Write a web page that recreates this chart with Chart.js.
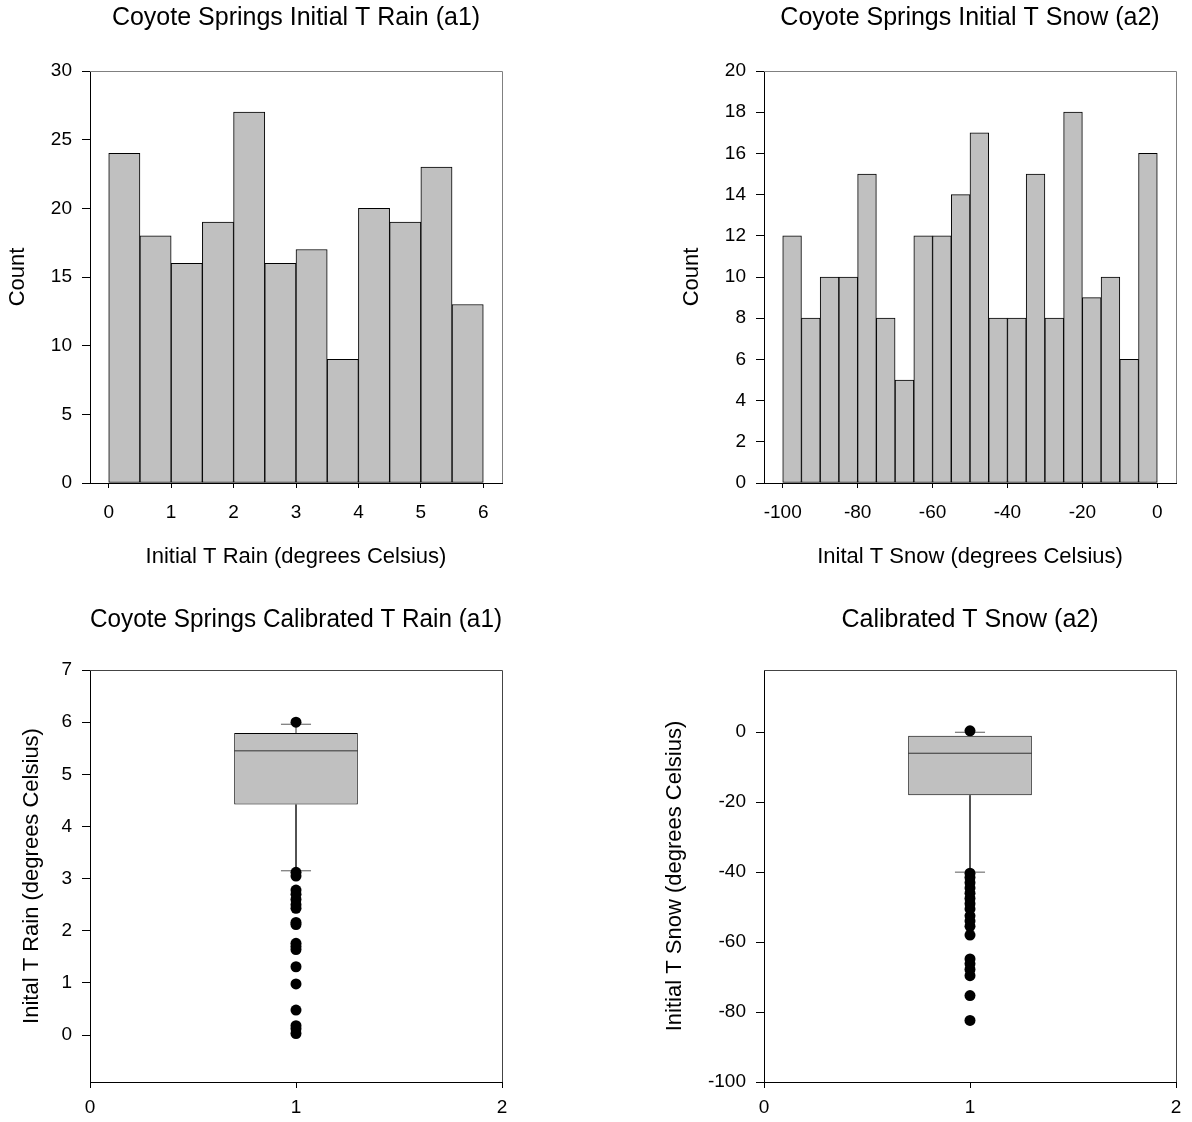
<!DOCTYPE html>
<html><head><meta charset="utf-8">
<script src="https://cdn.jsdelivr.net/npm/chart.js@4/dist/chart.umd.min.js"></script>
<style>
html,body{margin:0;padding:0;background:#fff;}
#wrap{position:relative;width:1192px;height:1122px;overflow:hidden;}
canvas{position:absolute;}
</style></head><body>
<div id="wrap">
<canvas id="tl" width="596" height="580" style="left:0;top:0"></canvas>
<canvas id="tr" width="596" height="580" style="left:596px;top:0"></canvas>
<canvas id="bl" width="596" height="542" style="left:0;top:580px"></canvas>
<canvas id="br" width="596" height="542" style="left:596px;top:580px"></canvas>
</div>
<script>
// ---- data ----
const rainBinCenters = [0.25,0.75,1.25,1.75,2.25,2.75,3.25,3.75,4.25,4.75,5.25,5.75];
const rainCounts     = [24,18,16,19,27,16,17,9,20,19,23,13];
const rainXTicks     = [0,1,2,3,4,5,6];
const rainYTicks     = [0,5,10,15,20,25,30];

const snowBinCenters = [-97.5,-92.5,-87.5,-82.5,-77.5,-72.5,-67.5,-62.5,-57.5,-52.5,-47.5,-42.5,-37.5,-32.5,-27.5,-22.5,-17.5,-12.5,-7.5,-2.5];
const snowCounts     = [12,8,10,10,15,8,5,12,12,14,17,8,8,15,8,18,9,10,6,16];
const snowXTicks     = [-100,-80,-60,-40,-20,0];
const snowYTicks     = [0,2,4,6,8,10,12,14,16,18,20];

// box stats: [lower whisker, q1, median, q3, upper whisker]
const rainBoxStats   = [3.15, 4.42, 5.45, 5.79, 5.96];
const rainOutliers   = [6.0, 3.12, 3.05, 2.78, 2.7, 2.6, 2.5, 2.43, 2.16, 2.12, 1.76, 1.7, 1.64, 1.31, 0.98, 0.48, 0.18, 0.12, 0.03];
const rainBoxYTicks  = [0,1,2,3,4,5,6,7];

const snowBoxStats   = [-40, -18, -6, -1, 0];
const snowOutliers   = [0.4, -40.3, -41.5, -43, -44.5, -46, -47.5, -49, -50.5, -52.5, -54, -55.5, -58, -64.8, -66.2, -67.8, -69.6, -75.3, -82.4];
const snowBoxYTicks  = [-100,-80,-60,-40,-20,0];

const boxXTicks      = [0,1,2];
const boxPosition    = 1;

// ---- style ----
Chart.defaults.font.family = "'Liberation Sans', Arial, sans-serif";
Chart.defaults.color = '#000';
const FILL = '#c0c0c0';
const BOX_HALF = 0.3;
const CAP_HALF = 0.073;

const frame = {
  id: 'frame',
  afterDraw(chart, args, opts) {
    const {ctx, chartArea: {left, right, top, bottom}} = chart;
    ctx.save();
    ctx.strokeStyle = opts.color || '#808080';
    ctx.lineWidth = 1;
    ctx.beginPath();
    ctx.moveTo(Math.round(left), Math.round(top) + 0.5);
    ctx.lineTo(Math.round(right) + 0.5, Math.round(top) + 0.5);
    ctx.lineTo(Math.round(right) + 0.5, Math.round(bottom));
    ctx.stroke();
    ctx.restore();
  }
};

function axis(tickVals, tickLen, pad, extra) {
  return Object.assign({
    type: 'linear',
    offset: false,
    grid: {display: true, drawOnChartArea: false, drawTicks: true, tickLength: tickLen, color: '#000', lineWidth: 1, offset: false},
    border: {display: true, color: '#000', width: 1},
    ticks: {padding: pad, font: {size: 19}, color: '#000', autoSkip: false, maxRotation: 0},
    afterBuildTicks: s => { s.ticks = tickVals.map(v => ({value: v})); }
  }, extra);
}

function baseOptions(titleText, titlePad, padRight, frameColor) {
  return {
    responsive: false, animation: false, events: [],
    layout: {padding: {left: 0, right: padRight, top: 0, bottom: 0}},
    plugins: {
      legend: {display: false}, tooltip: {enabled: false},
      title: {display: true, text: titleText, fullSize: false, color: '#000',
              font: {size: 25, weight: 'normal'}, padding: titlePad},
      frame: {color: frameColor}
    }
  };
}

function histogram(id, centers, counts, o) {
  const opts = baseOptions(o.title, {top: 3, bottom: 38}, o.padRight, '#808080');
  opts.scales = {
    x: axis(o.xTicks, 5, 13, {min: o.xMin, max: o.xMax,
      title: {display: true, text: o.xTitle, font: {size: 22}, color: '#000', padding: {top: 0, bottom: 9.8}},
      afterFit: s => { s.height = 97; }}),
    y: axis(o.yTicks, 8, 10, {min: o.yMin, max: o.yMax,
      title: {display: true, text: 'Count', font: {size: 22}, color: '#000', padding: {top: o.yTitlePad, bottom: 0}},
      afterFit: s => { s.width = o.yWidth; }})
  };
  new Chart(document.getElementById(id), {
    type: 'bar',
    data: {datasets: [{
      data: centers.map((x, i) => ({x: x, y: counts[i]})),
      backgroundColor: FILL, borderColor: '#000', borderWidth: 1, borderSkipped: false,
      barPercentage: 1, categoryPercentage: 1
    }]},
    options: opts,
    plugins: [frame]
  });
}

function boxplot(id, stats, outliers, o) {
  const [wLo, q1, med, q3, wHi] = stats;
  const p = boxPosition;
  const seg = (a, b, color, ord) => ({type: 'line', data: [a, b], borderColor: color, borderWidth: 1,
    pointRadius: 0, fill: false, order: ord});
  const opts = baseOptions(o.title, {top: 25, bottom: 35}, o.padRight, '#444');
  opts.scales = {
    x: axis(boxXTicks, 6, 8.5, {min: 0, max: 2, afterFit: s => { s.height = 40; }}),
    y: axis(o.yTicks, 8, 10, {min: o.yMin, max: o.yMax,
      title: {display: true, text: o.yTitle, font: {size: 22}, color: '#000', padding: {top: o.yTitlePad, bottom: 0}},
      afterFit: s => { s.width = o.yWidth; }})
  };
  new Chart(document.getElementById(id), {
    type: 'bar',
    data: {datasets: [
      {type: 'line', data: outliers.map(v => ({x: p, y: v})), showLine: false,
       pointRadius: 5.5, pointBackgroundColor: '#000', pointBorderWidth: 0, order: 0},
      seg({x: p - BOX_HALF, y: med}, {x: p + BOX_HALF, y: med}, '#333', 1),
      seg({x: p - CAP_HALF, y: wHi}, {x: p + CAP_HALF, y: wHi}, '#5a5a5a', 2),
      seg({x: p - CAP_HALF, y: wLo}, {x: p + CAP_HALF, y: wLo}, '#5a5a5a', 2),
      seg({x: p, y: q3}, {x: p, y: wHi}, '#3a3a3a', 2),
      seg({x: p, y: q1}, {x: p, y: wLo}, '#3a3a3a', 2),
      {type: 'bar', data: [{x: p, y: [q1, q3]}], backgroundColor: FILL, borderColor: '#000',
       borderWidth: 1, borderSkipped: false, barPercentage: 0.6, categoryPercentage: 1, order: 3}
    ]},
    options: opts,
    plugins: [frame]
  });
}

histogram('tl', rainBinCenters, rainCounts, {
  title: 'Coyote Springs Initial T Rain (a1)', padRight: 94,
  xMin: -0.3, xMax: 6.3, xTicks: rainXTicks, xTitle: 'Initial T Rain (degrees Celsius)',
  yMin: 0, yMax: 30, yTicks: rainYTicks, yWidth: 90, yTitlePad: 4.8
});
histogram('tr', snowBinCenters, snowCounts, {
  title: 'Coyote Springs Initial T Snow (a2)', padRight: 16,
  xMin: -105, xMax: 5, xTicks: snowXTicks, xTitle: 'Inital T Snow (degrees Celsius)',
  yMin: 0, yMax: 20, yTicks: snowYTicks, yWidth: 168, yTitlePad: 82.8
});
boxplot('bl', rainBoxStats, rainOutliers, {
  title: 'Coyote Springs Calibrated T Rain (a1)', padRight: 94,
  yMin: -0.9, yMax: 7, yTicks: rainBoxYTicks, yWidth: 90, yTitlePad: 18.8,
  yTitle: 'Inital T Rain (degrees Celsius)'
});
boxplot('br', snowBoxStats, snowOutliers, {
  title: 'Calibrated T Snow (a2)', padRight: 16,
  yMin: -100, yMax: 17.8, yTicks: snowBoxYTicks, yWidth: 168, yTitlePad: 65.8,
  yTitle: 'Initial T Snow (degrees Celsius)'
});
</script>
</body></html>
